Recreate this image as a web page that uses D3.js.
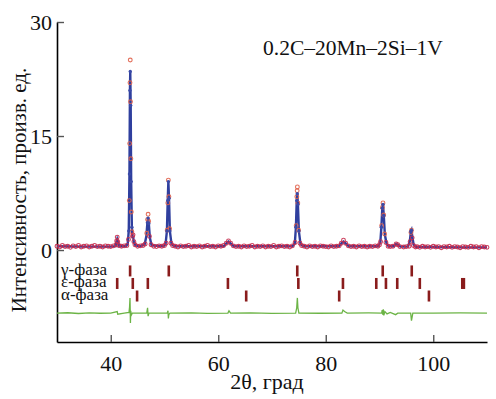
<!DOCTYPE html>
<html>
<head>
<meta charset="utf-8">
<script src="https://cdn.jsdelivr.net/npm/d3@7"></script>
<style>
  body { margin: 0; background: #fff; }
  svg text { font-family: "Liberation Serif", "Times New Roman", "DejaVu Serif", serif !important; }
</style>
</head>
<body>
<svg id="chart" width="496" height="399"></svg>
<script>

// calculated profile (blue line)
let calcPts = [[30,0.5],[35,0.45],[40,0.45],[40.9,0.5],[41.05,1.0],[41.2,1.4],[41.35,1.0],[41.6,0.5],[42.8,0.5],[43.15,0.8],[43.35,2.5],[43.48,10],[43.57,21],[43.63,23.5],[43.71,19],[43.8,9],[43.93,3],[44.05,1.6],[44.15,1.8],[44.3,1.0],[44.6,0.6],[45.5,0.5],[46.3,0.7],[46.62,1.8],[46.82,3.6],[46.95,4.2],[47.08,3.5],[47.28,1.6],[47.6,0.6],[49.8,0.5],[50.2,0.8],[50.45,2.5],[50.6,6.5],[50.72,9.0],[50.84,6.8],[51.0,2.5],[51.3,0.8],[51.8,0.5],[61.0,0.5],[61.4,0.8],[61.9,1.1],[62.4,0.8],[62.9,0.5],[73.8,0.5],[74.25,0.9],[74.45,3],[74.6,6.5],[74.7,7.4],[74.82,6],[75.0,2.5],[75.3,0.8],[75.8,0.5],[82.4,0.5],[82.8,0.8],[83.3,1.1],[83.8,0.8],[84.3,0.5],[89.8,0.5],[90.15,1.0],[90.35,3],[90.52,5.5],[90.65,6.0],[90.8,4.5],[91.0,2],[91.3,0.9],[91.7,0.5],[92.7,0.5],[93.1,0.8],[93.45,0.7],[93.9,0.45],[95.3,0.45],[95.65,1.2],[95.83,2.4],[95.95,2.6],[96.1,1.8],[96.35,0.7],[96.8,0.4],[100,0.4],[105,0.35],[110,0.35]];

// observed points (red circles)
let obsPts = [[30,0.5],[30.5,0.4],[31,0.6],[31.5,0.45],[32,0.5],[32.5,0.35],[33,0.55],[33.5,0.45],[34,0.6],[34.5,0.4],[35,0.5],[35.5,0.55],[36,0.4],[36.5,0.5],[37,0.6],[37.5,0.45],[38,0.5],[38.5,0.4],[39,0.55],[39.5,0.5],[40,0.45],[40.5,0.55],[41,0.7],[41.1,1.2],[41.2,1.7],[41.3,1.1],[41.5,0.6],[42,0.5],[42.5,0.55],[43,0.6],[43.3,1.4],[43.45,6.5],[43.52,14],[43.58,22],[43.63,25],[43.68,19.5],[43.74,12],[43.82,5],[43.92,2.4],[44.05,1.8],[44.15,2.0],[44.3,1.1],[44.5,0.7],[45,0.5],[45.5,0.55],[46,0.6],[46.4,0.8],[46.7,2.2],[46.85,4.0],[46.95,4.7],[47.05,3.8],[47.2,1.8],[47.5,0.7],[48,0.5],[48.5,0.45],[49,0.55],[49.5,0.5],[50,0.6],[50.3,0.9],[50.5,2.6],[50.62,6.2],[50.72,9.2],[50.82,7.0],[50.95,2.8],[51.2,0.9],[51.5,0.6],[52,0.5],[52.5,0.4],[53,0.55],[53.5,0.45],[54,0.5],[54.5,0.6],[55,0.4],[55.5,0.5],[56,0.45],[56.5,0.55],[57,0.4],[57.5,0.5],[58,0.6],[58.5,0.45],[59,0.5],[59.5,0.4],[60,0.55],[60.5,0.5],[61,0.6],[61.5,0.9],[61.9,1.2],[62.3,0.9],[62.8,0.55],[63.3,0.45],[63.8,0.5],[64.3,0.4],[64.8,0.55],[65.3,0.45],[65.8,0.5],[66.3,0.6],[66.8,0.4],[67.3,0.5],[67.8,0.45],[68.3,0.55],[68.8,0.4],[69.3,0.5],[69.8,0.45],[70.3,0.6],[70.8,0.4],[71.3,0.5],[71.8,0.55],[72.3,0.45],[72.8,0.5],[73.3,0.4],[73.8,0.55],[74.3,1.0],[74.5,3.2],[74.62,7.0],[74.68,7.8],[74.72,8.3],[74.8,6.2],[74.95,2.6],[75.2,0.9],[75.5,0.6],[76,0.5],[76.5,0.4],[77,0.55],[77.5,0.45],[78,0.5],[78.5,0.4],[79,0.55],[79.5,0.5],[80,0.45],[80.5,0.4],[81,0.55],[81.5,0.45],[82,0.5],[82.5,0.55],[82.9,0.9],[83.3,1.3],[83.7,0.9],[84.2,0.55],[84.7,0.45],[85.2,0.5],[85.7,0.4],[86.2,0.55],[86.7,0.45],[87.2,0.5],[87.7,0.4],[88.2,0.5],[88.7,0.45],[89.2,0.55],[89.7,0.5],[90,0.7],[90.2,1.1],[90.4,3.2],[90.55,5.6],[90.65,6.2],[90.78,4.6],[90.95,2.1],[91.2,1.0],[91.6,0.5],[92,0.45],[92.5,0.5],[93.1,0.8],[93.4,0.7],[93.8,0.45],[94.5,0.4],[95,0.45],[95.5,0.5],[95.7,1.1],[95.85,2.3],[95.95,2.6],[96.08,1.6],[96.3,0.6],[96.7,0.4],[97,0.45],[97.5,0.35],[98,0.5],[98.5,0.4],[99,0.45],[99.5,0.35],[100,0.5],[100.5,0.4],[101,0.45],[101.5,0.3],[102,0.45],[102.5,0.4],[103,0.5],[103.5,0.35],[104,0.45],[104.5,0.4],[105,0.3],[105.5,0.45],[106,0.4],[106.5,0.35],[107,0.5],[107.5,0.4],[108,0.45],[108.5,0.3],[109,0.45],[109.5,0.4],[110,0.35]];

// difference curve (green)
let diffPts = [[30,-8.3],[32,-8.25],[34,-8.35],[36,-8.28],[38,-8.32],[40,-8.3],[41.2,-8.1],[41.3,-8.45],[42.5,-8.3],[43.4,-8.2],[43.5,-7.5],[43.58,-6.3],[43.62,-7.8],[43.66,-9.6],[43.72,-8.0],[43.8,-8.6],[44,-8.3],[46.7,-8.3],[46.85,-7.6],[46.95,-8.7],[47.1,-8.3],[50.5,-8.3],[50.65,-8.0],[50.72,-9.0],[50.8,-8.5],[51,-8.3],[55,-8.28],[58,-8.33],[61.8,-8.3],[62,-8.0],[62.3,-8.3],[66,-8.27],[70,-8.33],[74.4,-8.3],[74.6,-7.6],[74.72,-6.3],[74.82,-7.6],[75,-8.3],[79,-8.32],[83,-8.3],[83.2,-7.9],[83.5,-8.1],[84,-8.3],[88,-8.28],[90.4,-8.3],[90.5,-7.9],[90.6,-8.5],[90.7,-7.8],[90.8,-8.6],[91,-8.1],[91.4,-8.4],[92,-8.2],[93,-8.5],[93.4,-8.3],[95.8,-8.3],[95.95,-9.3],[96.05,-8.9],[96.2,-8.3],[100,-8.3],[105,-8.28],[110,-8.3]];

// Bragg reflection positions
let gammaPos = [43.6, 50.8, 74.7, 90.6, 96.0];
let epsPos = [41.2, 44.1, 46.9, 61.8, 74.9, 83.2, 89.4, 91.2, 93.3, 97.5, 105.4, 105.7];
let alphaPos = [44.9, 65.2, 82.5, 99.2];
let phaseLabels = ["γ-фаза", "ε-фаза", "α-фаза"];
let phaseRows = [-2.75, -4.4, -6.05];

let xTicks = [40, 60, 80, 100];
let yTicks = [0, 15, 30];

let svg = d3.select("svg#chart");
let margin = { "top": 22, "right": 9, "bottom": 57, "left": 57 };
let width = 496, height = 399;
let serif = "'Liberation Serif', 'Times New Roman', serif";

let xScale = d3.scaleLinear().domain([30, 110]).range([margin.left, width - margin.right]);
let yScale = d3.scaleLinear().domain([-12.1, 30]).range([height - margin.bottom, margin.top]);

// axes
let xAxis = d3.axisBottom(xScale).tickValues(xTicks).tickSizeInner(-7).tickSizeOuter(0).tickPadding(13);
let yAxis = d3.axisLeft(yScale).tickValues(yTicks).tickSizeInner(-7).tickSizeOuter(0).tickPadding(5);

let gx = svg.append("g").attr("transform", "translate(0," + (height - margin.bottom) + ")").call(xAxis);
let gy = svg.append("g").attr("transform", "translate(" + margin.left + ",0)").call(yAxis);
[gx, gy].forEach(function(g) {
  g.attr("font-family", serif).attr("font-size", 22);
  g.select(".domain").attr("stroke", "#000").attr("stroke-width", 1.6);
  g.selectAll(".tick line").attr("stroke", "#555").attr("stroke-width", 1.4);
  g.selectAll(".tick text").attr("fill", "#111");
});
gy.selectAll(".tick text").attr("dy", "0.36em");

// difference
let line = d3.line().x(d => xScale(d[0])).y(d => yScale(d[1]));
svg.append("path").attr("d", line(diffPts)).attr("fill", "none").attr("stroke", "#6cb446").attr("stroke-width", 1.3);

// bragg ticks
[gammaPos, epsPos, alphaPos].forEach(function(arr, i) {
  svg.selectAll(null).data(arr).enter().append("rect")
    .attr("x", d => xScale(d) - 1.3)
    .attr("y", yScale(phaseRows[i]) - 5.5)
    .attr("width", 2.6)
    .attr("height", 11)
    .attr("fill", "#8a1c1c");
  svg.append("text")
    .attr("x", 61)
    .attr("y", yScale(phaseRows[i]) + 4)
    .attr("font-size", 17)
    .attr("fill", "#111")
    .text(phaseLabels[i]);
});

// calculated line
svg.append("path").attr("d", line(calcPts)).attr("fill", "none").attr("stroke", "#2f3f9e").attr("stroke-width", 2.4);

// observed circles
svg.selectAll(null).data(obsPts).enter().append("circle")
  .attr("cx", d => xScale(d[0]))
  .attr("cy", d => yScale(d[1]))
  .attr("r", 1.9)
  .attr("fill", "none")
  .attr("stroke", d => d[1] > 2 ? "#e0604a" : "#c62c4e")
  .attr("stroke-width", 1.1)
  .attr("opacity", 0.9);

// calc dots on the peaks
svg.selectAll(null).data(calcPts.filter(d => d[1] > 2)).enter().append("circle")
  .attr("cx", d => xScale(d[0]))
  .attr("cy", d => yScale(d[1]))
  .attr("r", 1.7)
  .attr("fill", "#3a4aa8");

// titles
svg.append("text")
  .attr("x", 263).attr("y", 55)
  .attr("font-size", 21.5)
  .attr("fill", "#111")
  .text("0.2C–20Mn–2Si–1V");

svg.append("text")
  .attr("x", 267).attr("y", 389)
  .attr("text-anchor", "middle")
  .attr("font-size", 22)
  .attr("fill", "#111")
  .text("2θ, град");

svg.append("text")
  .attr("transform", "translate(26,190) rotate(-90)")
  .attr("text-anchor", "middle")
  .attr("font-size", 21)
  .attr("fill", "#111")
  .text("Интенсивность, произв. ед.");

</script>
</body>
</html>
